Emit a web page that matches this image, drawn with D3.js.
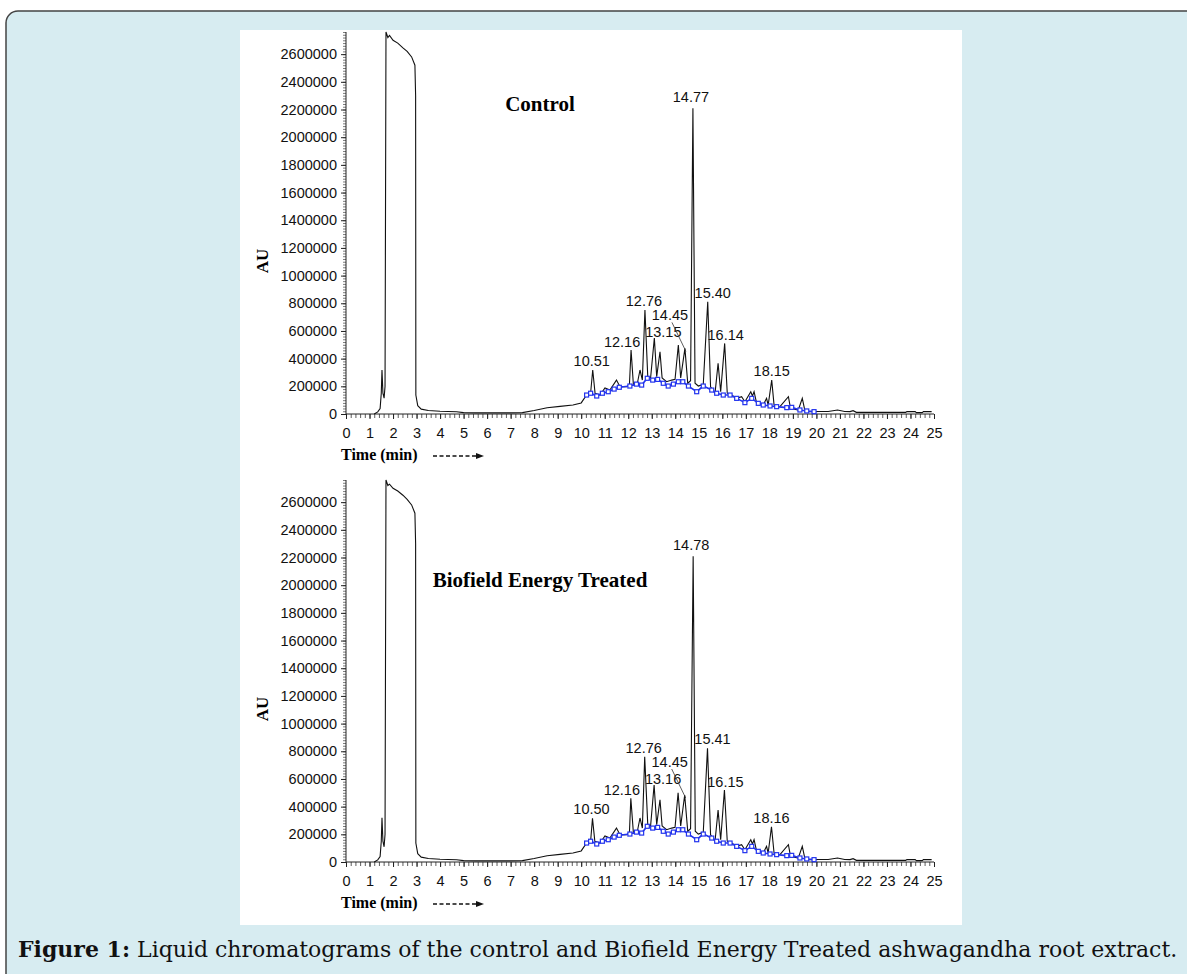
<!DOCTYPE html>
<html>
<head>
<meta charset="utf-8">
<script src="https://cdn.jsdelivr.net/npm/d3@7"></script>
<style>
  html, body { margin: 0; padding: 0; background: #ffffff; }
  svg { display: block; }
</style>
</head>
<body>
<div id="c1"></div>
<script>
// Chart data
var controlTime = [1.20, 1.35, 1.45, 1.50, 1.53, 1.57, 1.62, 1.66, 1.70, 1.78, 1.85, 2.00, 2.20, 2.42, 2.60, 2.79, 2.93, 2.96, 2.97,
  3.05, 3.20, 3.50, 4.00, 4.70, 5.00, 5.50, 6.00, 7.00, 7.50, 8.00, 8.55, 9.10, 9.65, 10.00, 10.23, 10.40, 10.49, 10.59,
  10.80, 11.01, 11.22, 11.50, 11.65, 11.93, 12.05, 12.12, 12.22, 12.39, 12.50, 12.60, 12.71, 12.83, 12.95, 13.11, 13.21,
  13.35, 13.44, 13.63, 13.85, 13.99, 14.13, 14.23, 14.41, 14.53, 14.65, 14.75, 14.84, 14.98, 15.19, 15.38, 15.50, 15.69,
  15.82, 15.93, 16.10, 16.21, 16.40, 16.61, 16.82, 16.96, 17.21, 17.28, 17.35, 17.46, 17.74, 17.88, 17.95, 18.10, 18.20,
  18.45, 18.81, 18.90, 19.23, 19.40, 19.52, 20.15, 20.50, 20.90, 21.20, 21.43, 21.56, 21.70, 23.80, 23.85, 24.20, 24.25,
  24.50, 24.55, 24.90];
var controlAU = [0, 15000, 40000, 150000, 318000, 150000, 115000, 200000, 2760000, 2720000, 2735000, 2700000, 2680000, 2645000, 2620000, 2580000, 2520000, 2300000, 137000,
  60000, 35000, 25000, 20000, 16000, 10000, 8000, 8000, 8000, 10000, 25000, 45000, 55000, 65000, 80000, 137000, 150000, 318000, 150000,
  137000, 188000, 173000, 245000, 197000, 197000, 210000, 462000, 209000, 224000, 318000, 245000, 751000, 270000, 260000, 549000, 270000,
  450000, 260000, 233000, 245000, 250000, 498000, 260000, 474000, 222000, 240000, 2209000, 222000, 202000, 215000, 811000, 197000, 150000,
  366000, 161000, 510000, 150000, 137000, 113000, 125000, 89000, 161000, 130000, 161000, 77000, 65000, 113000, 65000, 245000, 65000,
  53000, 125000, 41000, 29000, 113000, 17000, 18000, 18000, 29000, 18000, 17000, 24000, 12000, 12000, 17000, 17000, 10000,
  10000, 17000, 17000];

var treatedTime = [1.20, 1.35, 1.45, 1.50, 1.53, 1.57, 1.62, 1.66, 1.70, 1.78, 1.85, 2.00, 2.20, 2.42, 2.60, 2.79, 2.93, 2.96, 2.97,
  3.05, 3.20, 3.50, 4.00, 4.70, 5.00, 5.50, 6.00, 7.00, 7.50, 8.00, 8.55, 9.10, 9.65, 10.00, 10.23, 10.40, 10.48, 10.58,
  10.80, 11.01, 11.22, 11.50, 11.65, 11.93, 12.05, 12.11, 12.22, 12.39, 12.50, 12.60, 12.70, 12.83, 12.95, 13.10, 13.21,
  13.35, 13.44, 13.63, 13.85, 13.99, 14.12, 14.23, 14.40, 14.53, 14.65, 14.76, 14.85, 14.98, 15.19, 15.37, 15.50, 15.69,
  15.82, 15.93, 16.09, 16.21, 16.40, 16.61, 16.82, 16.96, 17.21, 17.28, 17.35, 17.46, 17.74, 17.88, 17.95, 18.09, 18.20,
  18.45, 18.81, 18.90, 19.23, 19.40, 19.52, 20.15, 20.50, 20.90, 21.20, 21.43, 21.56, 21.70, 23.80, 23.85, 24.20, 24.25,
  24.50, 24.55, 24.90];
var treatedAU = [0, 15000, 40000, 150000, 320000, 150000, 110000, 200000, 2760000, 2720000, 2730000, 2700000, 2680000, 2650000, 2620000, 2580000, 2520000, 2300000, 137000,
  60000, 35000, 25000, 20000, 16000, 10000, 8000, 8000, 8000, 10000, 25000, 45000, 55000, 65000, 80000, 137000, 150000, 315000, 150000,
  137000, 188000, 173000, 245000, 197000, 197000, 210000, 460000, 209000, 224000, 318000, 245000, 760000, 270000, 260000, 556000, 270000,
  450000, 260000, 233000, 245000, 250000, 500000, 260000, 484000, 222000, 240000, 2209000, 222000, 202000, 215000, 821000, 197000, 150000,
  375000, 161000, 520000, 150000, 137000, 113000, 125000, 89000, 161000, 130000, 161000, 77000, 65000, 113000, 65000, 255000, 65000,
  53000, 125000, 41000, 29000, 113000, 17000, 18000, 18000, 29000, 18000, 17000, 24000, 12000, 12000, 17000, 17000, 10000,
  10000, 17000, 17000];

// integration baseline (blue)
var baseTime = [10.23, 10.40, 10.66, 10.90, 11.15, 11.40, 11.62, 12.07, 12.35, 12.57, 12.81, 13.04, 13.25, 13.49, 13.70, 13.92,
  14.13, 14.32, 14.56, 14.91, 15.19, 15.55, 15.76, 16.04, 16.33, 16.61, 16.96, 17.25, 17.53, 17.74, 18.03, 18.31, 18.74,
  18.95, 19.30, 19.59, 19.90];
var baseAU = [137000, 150000, 130000, 150000, 161000, 180000, 193000, 202000, 216000, 209000, 258000, 245000, 250000, 222000, 202000, 216000,
  233000, 233000, 202000, 161000, 202000, 173000, 150000, 137000, 137000, 113000, 82000, 113000, 77000, 65000, 58000, 53000, 46000,
  48000, 29000, 22000, 17000];

var controlPeakLabels = ["10.51", "12.16", "12.76", "13.15", "14.45", "14.77", "15.40", "16.14", "18.15"];
var controlPeakTimes = [10.49, 12.12, 12.71, 13.11, 14.41, 14.75, 15.38, 16.10, 18.10];
var controlPeakAU = [318000, 462000, 751000, 549000, 474000, 2209000, 811000, 510000, 245000];

var treatedPeakLabels = ["10.50", "12.16", "12.76", "13.16", "14.45", "14.78", "15.41", "16.15", "18.16"];
var treatedPeakTimes = [10.48, 12.11, 12.70, 13.10, 14.40, 14.76, 15.37, 16.09, 18.09];
var treatedPeakAU = [315000, 460000, 760000, 556000, 484000, 2209000, 821000, 520000, 255000];

var xTicks = d3.range(0, 26);
var yTicks = d3.range(0, 2600001, 200000);

// label nudges in px (dx, dy) relative to peak apex
var labelNudge = [[-1, -4], [-9, -3], [-1, -4], [9, -1], [-15, -28], [-2, -6], [5, -4], [1, -3], [0, -4]];

var W = 1187, H = 974;
var sans = "'Liberation Sans', Arial, sans-serif";
var serif = "'Liberation Serif', 'Times New Roman', serif";

var svg = d3.select("#c1").append("svg").attr("width", W).attr("height", H);

// frame
svg.append("rect").attr("x", 6).attr("y", 11).attr("width", 1210).attr("height", 990)
  .attr("rx", 12).attr("fill", "#d7ecf1").attr("stroke", "#444").attr("stroke-width", 1.5);
svg.append("rect").attr("x", 240).attr("y", 30).attr("width", 722).attr("height", 895).attr("fill", "#fff");

var x = d3.scaleLinear().domain([0, 25]).range([346, 934]);

function drawChart(top, title, titleY, time, au, peakLabels, peakTimes, peakAU) {
  var y = d3.scaleLinear().domain([0, 2760000]).range([top + 382, top]);
  var g = svg.append("g");

  // y axis: minor + major ticks
  var yMinor = d3.range(0, 2760001, 20000);
  g.append("g").attr("transform", "translate(346,0)")
    .call(d3.axisLeft(y).tickValues(yMinor).tickSize(3).tickFormat(""))
    .call(function (s) { s.select(".domain").remove(); s.selectAll("line").attr("stroke", "#444").attr("stroke-width", 0.7); });
  g.append("g").attr("transform", "translate(346,0)")
    .call(d3.axisLeft(y).tickValues(yTicks).tickSize(5).tickPadding(4).tickFormat(d3.format("d")))
    .call(function (s) {
      s.select(".domain").attr("d", "M0," + y(0) + "V" + y(2760000)).attr("stroke", "#222");
      s.selectAll("line").attr("stroke", "#222");
      s.selectAll("text").attr("font-family", sans).attr("font-size", 14.5).attr("fill", "#111");
    });

  // x axis
  var xMinor = d3.range(0, 25.001, 0.2);
  g.append("g").attr("transform", "translate(0," + y(0) + ")")
    .call(d3.axisBottom(x).tickValues(xMinor).tickSize(4).tickFormat(""))
    .call(function (s) { s.select(".domain").remove(); s.selectAll("line").attr("stroke", "#333").attr("stroke-width", 0.8); });
  g.append("g").attr("transform", "translate(0," + y(0) + ")")
    .call(d3.axisBottom(x).tickValues(xTicks).tickSize(5).tickPadding(9).tickFormat(d3.format("d")))
    .call(function (s) {
      s.select(".domain").attr("d", "M346,0H934").attr("stroke", "#222");
      s.selectAll("line").attr("stroke", "#222");
      s.selectAll("text").attr("font-family", sans).attr("font-size", 14.5).attr("fill", "#111");
    });

  // trace
  var pts = time.map(function (t, i) { return [t, au[i]]; });
  var line = d3.line().x(function (d) { return x(d[0]); }).y(function (d) { return y(d[1]); });
  g.append("path").datum(pts).attr("d", line).attr("fill", "none")
    .attr("stroke", "#111").attr("stroke-width", 1.1);

  // integration baseline
  var bpts = baseTime.map(function (t, i) { return [t, baseAU[i]]; });
  g.append("path").datum(bpts).attr("d", line).attr("fill", "none")
    .attr("stroke", "#2233ee").attr("stroke-width", 1.6);
  g.selectAll("rect.bm").data(bpts).enter().append("rect")
    .attr("x", function (d) { return x(d[0]) - 2; })
    .attr("y", function (d) { return y(d[1]) - 2; })
    .attr("width", 4).attr("height", 4)
    .attr("fill", "#fff").attr("stroke", "#2233ee").attr("stroke-width", 1.2);

  // peak labels
  peakLabels.forEach(function (lab, i) {
    var px = x(peakTimes[i]), py = y(peakAU[i]);
    var n = labelNudge[i];
    g.append("text").attr("x", px + n[0]).attr("y", py + n[1])
      .attr("text-anchor", "middle").attr("font-family", sans).attr("font-size", 14.5)
      .attr("fill", "#111").text(lab);
    if (n[1] < -20) {
      g.append("line").attr("x1", px + n[0] + 2).attr("y1", py + n[1] + 2)
        .attr("x2", px + 1).attr("y2", py + 3).attr("stroke", "#333").attr("stroke-width", 0.8);
    }
  });

  // titles
  g.append("text").attr("x", 540).attr("y", top + titleY).attr("text-anchor", "middle")
    .attr("font-family", serif).attr("font-weight", "bold").attr("font-size", 21).text(title);
  g.append("text").attr("transform", "translate(268," + (top + 229) + ") rotate(-90)")
    .attr("text-anchor", "middle").attr("font-family", serif).attr("font-weight", "bold")
    .attr("font-size", 17).text("AU");
  g.append("text").attr("x", 341).attr("y", y(0) + 46).attr("font-family", serif)
    .attr("font-weight", "bold").attr("font-size", 16).text("Time (min)");
  g.append("line").attr("x1", 433).attr("x2", 477).attr("y1", y(0) + 42).attr("y2", y(0) + 42)
    .attr("stroke", "#111").attr("stroke-width", 1.3).attr("stroke-dasharray", "4,2.5");
  g.append("path").attr("d", "M476," + (y(0) + 39) + "L484," + (y(0) + 42) + "L476," + (y(0) + 45) + "Z")
    .attr("fill", "#111");
}

drawChart(32, "Control", 79, controlTime, controlAU, controlPeakLabels, controlPeakTimes, controlPeakAU);
drawChart(480, "Biofield Energy Treated", 107, treatedTime, treatedAU, treatedPeakLabels, treatedPeakTimes, treatedPeakAU);

// caption
var cap = svg.append("text").attr("x", 18).attr("y", 957).attr("font-family", "'DejaVu Serif', serif")
  .attr("font-size", 22).attr("fill", "#111");
cap.append("tspan").attr("font-weight", "bold").text("Figure 1:");
cap.append("tspan").text(" Liquid chromatograms of the control and Biofield Energy Treated ashwagandha root extract.");
</script>
</body>
</html>
